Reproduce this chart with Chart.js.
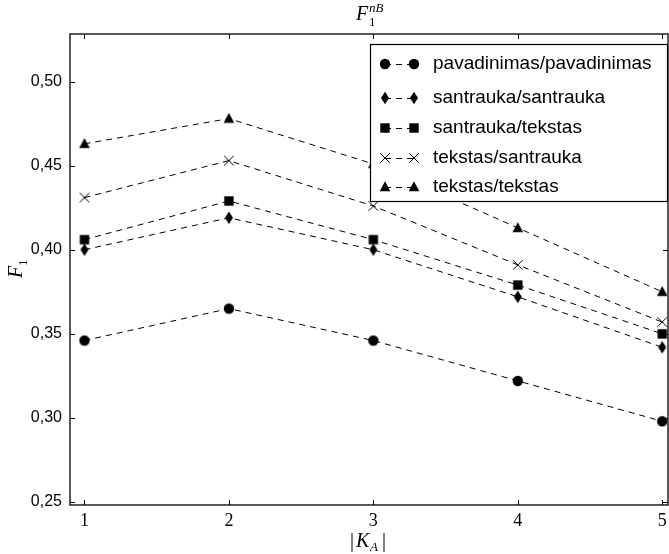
<!DOCTYPE html>
<html>
<head>
<meta charset="utf-8">
<script src="https://cdn.jsdelivr.net/npm/chart.js@4"></script>
<style>
  html, body { margin: 0; padding: 0; background: #fff; }
  #chart { display: block; }
</style>
</head>
<body>
<canvas id="chart" width="669" height="554"></canvas>
<script>
const xValues = [1, 2, 3, 4, 5];
const pavadinimasPavadinimas = [0.346, 0.365, 0.346, 0.322, 0.298];
const santraukaSantrauka = [0.400, 0.419, 0.400, 0.372, 0.342];
const santraukaTekstas = [0.406, 0.429, 0.406, 0.379, 0.350];
const tekstasSantrauka = [0.431, 0.453, 0.426, 0.391, 0.357];
const tekstasTekstas = [0.463, 0.478, 0.451, 0.413, 0.375];
const yTicks = [0.25, 0.30, 0.35, 0.40, 0.45, 0.50];
const xTicks = [1, 2, 3, 4, 5];

function makeMarker(kind) {
  const c = document.createElement('canvas');
  c.width = 14;
  c.height = 14;
  const ctx = c.getContext('2d');
  ctx.fillStyle = '#000';
  ctx.strokeStyle = '#000';
  ctx.translate(7, 7);
  ctx.beginPath();
  if (kind === 'circle') {
    ctx.arc(0, 0, 5.2, 0, Math.PI * 2);
    ctx.fill();
  } else if (kind === 'diamond') {
    ctx.moveTo(0, -6.2);
    ctx.lineTo(4, 0);
    ctx.lineTo(0, 6.2);
    ctx.lineTo(-4, 0);
    ctx.closePath();
    ctx.fill();
  } else if (kind === 'square') {
    ctx.rect(-4.7, -4.7, 9.4, 9.4);
    ctx.fill();
  } else if (kind === 'triangle') {
    ctx.moveTo(0, -5.8);
    ctx.lineTo(5.3, 4.2);
    ctx.lineTo(-5.3, 4.2);
    ctx.closePath();
    ctx.fill();
  } else if (kind === 'cross') {
    ctx.lineWidth = 1;
    ctx.moveTo(-4.8, -4.8);
    ctx.lineTo(4.8, 4.8);
    ctx.moveTo(4.8, -4.8);
    ctx.lineTo(-4.8, 4.8);
    ctx.stroke();
  }
  return c;
}

const series = [
  { label: 'pavadinimas/pavadinimas', values: pavadinimasPavadinimas, marker: 'circle' },
  { label: 'santrauka/santrauka', values: santraukaSantrauka, marker: 'diamond' },
  { label: 'santrauka/tekstas', values: santraukaTekstas, marker: 'square' },
  { label: 'tekstas/santrauka', values: tekstasSantrauka, marker: 'cross' },
  { label: 'tekstas/tekstas', values: tekstasTekstas, marker: 'triangle' },
];
series.forEach((s) => { s.img = makeMarker(s.marker); });

const datasets = series.map((s) => ({
  label: s.label,
  data: xValues.map((x, i) => ({ x, y: s.values[i] })),
  borderColor: '#000',
  borderWidth: 1,
  borderDash: [6, 5],
  pointStyle: s.img,
  pointRadius: 5,
  pointHoverRadius: 5,
  fill: false,
  tension: 0,
}));

const legendRows = [64, 98, 128, 158, 187];

const framePlugin = {
  id: 'frame',
  afterDatasetsDraw(chart) {
    const { ctx, chartArea: a, scales } = chart;
    ctx.save();
    // inward ticks on all four sides
    ctx.strokeStyle = '#000';
    ctx.lineWidth = 1;
    ctx.beginPath();
    xTicks.forEach((t) => {
      const px = Math.round(scales.x.getPixelForValue(t)) + 0.5;
      ctx.moveTo(px, a.bottom);
      ctx.lineTo(px, a.bottom - 5);
      ctx.moveTo(px, a.top);
      ctx.lineTo(px, a.top + 5);
    });
    yTicks.forEach((t) => {
      const py = Math.round(scales.y.getPixelForValue(t)) + 0.5;
      ctx.moveTo(a.left, py);
      ctx.lineTo(a.left + 5, py);
      ctx.moveTo(a.right, py);
      ctx.lineTo(a.right - 5, py);
    });
    ctx.stroke();

    // legend box
    const lx = 370, ly = 44, lw = 297, lh = 157;
    ctx.fillStyle = '#fff';
    ctx.fillRect(lx, ly, lw, lh);
    ctx.lineWidth = 1.2;
    ctx.strokeRect(lx + 0.5, ly + 0.5, lw, lh);
    ctx.font = '19px "Liberation Sans", Arial, sans-serif';
    ctx.textBaseline = 'middle';
    ctx.fillStyle = '#000';
    series.forEach((s, i) => {
      const y = legendRows[i];
      ctx.save();
      ctx.lineWidth = 1;
      ctx.setLineDash([6, 5]);
      ctx.beginPath();
      ctx.moveTo(385, y + 0.5);
      ctx.lineTo(414, y + 0.5);
      ctx.stroke();
      ctx.restore();
      ctx.drawImage(s.img, 385 - 7, y - 7);
      ctx.drawImage(s.img, 414 - 7, y - 7);
      ctx.fillText(s.label, 433, y);
    });

    // frame
    ctx.lineWidth = 1.3;
    ctx.strokeRect(a.left, a.top, a.right - a.left, a.bottom - a.top);

    // title F_1^{nB}
    const serif = '"Liberation Serif", "DejaVu Serif", serif';
    ctx.textBaseline = 'alphabetic';
    ctx.textAlign = 'left';
    ctx.font = 'italic 20px ' + serif;
    ctx.fillText('F', 356, 20);
    ctx.font = '13px ' + serif;
    ctx.fillText('1', 369, 26);
    ctx.font = 'italic 13px ' + serif;
    ctx.fillText('nB', 369, 12);

    // x axis title |K_A|
    ctx.font = '20px ' + serif;
    ctx.fillText('|', 350, 547);
    ctx.font = 'italic 20px ' + serif;
    ctx.fillText('K', 356, 547);
    ctx.font = 'italic 13px ' + serif;
    ctx.fillText('A', 370, 551);
    ctx.font = '20px ' + serif;
    ctx.fillText('|', 382, 547);

    // y axis title F_1
    ctx.translate(22, 278);
    ctx.rotate(-Math.PI / 2);
    ctx.font = 'italic 20px ' + serif;
    ctx.fillText('F', 0, 0);
    ctx.font = '13px ' + serif;
    ctx.fillText('1', 12, 5);
    ctx.restore();
  },
};

new Chart(document.getElementById('chart'), {
  type: 'line',
  data: { datasets },
  options: {
    responsive: false,
    animation: false,
    events: [],
    layout: { autoPadding: false, padding: { top: 34, right: 1, left: 0, bottom: 0 } },
    plugins: {
      legend: { display: false },
      title: { display: false },
      tooltip: { enabled: false },
    },
    scales: {
      x: {
        type: 'linear',
        min: 0.9,
        max: 5.04,
        afterBuildTicks: (scale) => { scale.ticks = xTicks.map((v) => ({ value: v })); },
        afterFit: (scale) => {
          scale.height = 49;
          scale.paddingLeft = 0;
          scale.paddingRight = 0;
        },
        grid: { display: false, drawTicks: false },
        border: { display: false },
        ticks: {
          color: '#000',
          padding: 5,
          maxRotation: 0,
          font: { family: '"Liberation Serif", "DejaVu Serif", serif', size: 18 },
          callback: (v) => String(v),
        },
      },
      y: {
        min: 0.2482,
        max: 0.5283,
        afterBuildTicks: (scale) => { scale.ticks = yTicks.map((v) => ({ value: v })); },
        afterFit: (scale) => {
          scale.width = 70;
          scale.paddingTop = 0;
          scale.paddingBottom = 0;
        },
        grid: { display: false, drawTicks: false },
        border: { display: false },
        ticks: {
          color: '#000',
          padding: 8,
          font: { family: '"Liberation Sans", Arial, sans-serif', size: 16 },
          callback: (v) => v.toFixed(2).replace('.', ','),
        },
      },
    },
  },
  plugins: [framePlugin],
});
</script>
</body>
</html>
